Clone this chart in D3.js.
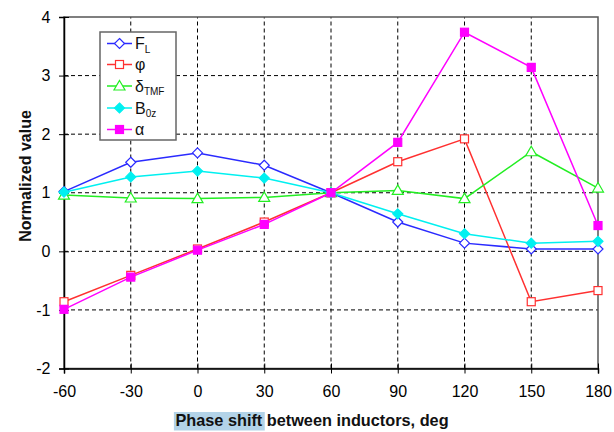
<!DOCTYPE html>
<html>
<head>
<meta charset="utf-8">
<script src="https://cdn.jsdelivr.net/npm/d3@7"></script>
<style>
  body { margin: 0; background: #fff; }
  svg { display: block; font-family: "Liberation Sans", Arial, sans-serif; }
</style>
</head>
<body>
<svg id="chart" width="614" height="432"></svg>
<script>
// Phase shift (deg) on the x axis
const phaseShift = [-60, -30, 0, 30, 60, 90, 120, 150, 180];

// Normalized values of each quantity
const forceL   = [1.02, 1.52, 1.68, 1.47, 1.00, 0.50, 0.14, 0.04, 0.04];
const phi      = [-0.86, -0.41, 0.04, 0.50, 1.00, 1.53, 1.92, -0.86, -0.67];
const deltaTMF = [0.96, 0.91, 0.90, 0.92, 1.00, 1.04, 0.90, 1.70, 1.08];
const b0z      = [1.01, 1.27, 1.37, 1.25, 1.00, 0.64, 0.30, 0.14, 0.17];
const alpha    = [-0.99, -0.44, 0.02, 0.46, 1.00, 1.86, 3.74, 3.14, 0.44];

const xTicks = [-60, -30, 0, 30, 60, 90, 120, 150, 180];
const yTicks = [-2, -1, 0, 1, 2, 3, 4];

const series = [
  { name: "F", sub: "L",   values: forceL,   color: "#2a2aff", marker: "diamond",  filled: false },
  { name: "φ", sub: "",    values: phi,      color: "#ff3030", marker: "square",   filled: false },
  { name: "δ", sub: "TMF", values: deltaTMF, color: "#22ee22", marker: "triangle", filled: false },
  { name: "B", sub: "0z",  values: b0z,      color: "#00f0f0", marker: "diamond",  filled: true },
  { name: "α", sub: "",    values: alpha,    color: "#ff00ff", marker: "square",   filled: true }
];

const svg = d3.select("#chart");
const margin = { left: 64, right: 16, top: 17, bottom: 64 };
const W = 614, H = 432;
const x = d3.scaleLinear().domain([-60, 180]).range([margin.left, W - margin.right]);
const y = d3.scaleLinear().domain([-2, 4]).range([H - margin.bottom + 0.5, margin.top]);

// Dashed grid
const grid = svg.append("g");
grid.selectAll(".gx").data(xTicks.slice(1, -1)).join("line")
  .attr("x1", d => x(d)).attr("x2", d => x(d))
  .attr("y1", y(-2)).attr("y2", y(4))
  .attr("stroke", "#000").attr("stroke-width", 1).attr("stroke-dasharray", "4,3");
grid.selectAll(".gy").data(yTicks.slice(1, -1)).join("line")
  .attr("y1", d => y(d)).attr("y2", d => y(d))
  .attr("x1", x(-60)).attr("x2", x(180))
  .attr("stroke", "#000").attr("stroke-width", 1).attr("stroke-dasharray", "4,3");

// Plot frame
svg.append("rect")
  .attr("x", x(-60)).attr("y", y(4))
  .attr("width", x(180) - x(-60)).attr("height", y(-2) - y(4))
  .attr("fill", "none").attr("stroke", "#555").attr("stroke-width", 1.5);

// Axes with ticks crossing the axis line
const yAxis = svg.append("g").attr("transform", `translate(${x(-60)},0)`)
  .call(d3.axisLeft(y).tickValues(yTicks).tickSize(5).tickPadding(8.5).tickFormat(d3.format("d")));
yAxis.selectAll(".tick line").attr("x2", -5).attr("x1", 5);
const xAxis = svg.append("g").attr("transform", `translate(0,${y(-2)})`)
  .call(d3.axisBottom(x).tickValues(xTicks).tickSize(5).tickPadding(12.5).tickFormat(d3.format("d")));
xAxis.selectAll(".tick line").attr("y1", -5).attr("y2", 5);
[xAxis, yAxis].forEach(a => {
  a.select(".domain").attr("stroke", "#000").attr("stroke-width", 1.5);
  a.selectAll(".tick line").attr("stroke", "#000");
  a.selectAll("text").attr("font-size", 16).attr("fill", "#000")
    .attr("font-family", "Liberation Sans, Arial, sans-serif")
    .text(d => String(d).replace("−", "-"));
});

// Axis titles; the words "Phase shift" sit on a light-blue highlight
const hl = svg.append("rect").attr("fill", "#b3d3e8");
const xTitle = svg.append("text").attr("x", 312).attr("y", 426).attr("text-anchor", "middle")
  .attr("font-size", 16.3).attr("font-weight", "bold").attr("fill", "#111")
  .text("Phase shift between inductors, deg");
{
  const node = xTitle.node();
  const x0 = node.getStartPositionOfChar(0).x;
  const w = node.getSubStringLength(0, 11);
  hl.attr("x", x0 - 1.5).attr("y", 412).attr("width", w + 4).attr("height", 18.5);
}
svg.append("text").attr("transform", "translate(31,176) rotate(-90)").attr("text-anchor", "middle")
  .attr("font-size", 16).attr("font-weight", "bold").attr("fill", "#111")
  .text("Normalized value");

// Marker shapes
function drawMarker(g, s, cx, cy) {
  const fill = s.filled ? s.color : "#fff";
  if (s.marker === "diamond") {
    g.append("path").attr("d", `M${cx},${cy - 5}L${cx + 5},${cy}L${cx},${cy + 5}L${cx - 5},${cy}Z`)
      .attr("fill", fill).attr("stroke", s.color).attr("stroke-width", 1.2);
  } else if (s.marker === "square") {
    g.append("rect").attr("x", cx - 4).attr("y", cy - 4).attr("width", 8).attr("height", 8)
      .attr("fill", fill).attr("stroke", s.color).attr("stroke-width", 1.2);
  } else {
    g.append("path").attr("d", `M${cx},${cy - 5.5}L${cx + 5.5},${cy + 4}L${cx - 5.5},${cy + 4}Z`)
      .attr("fill", fill).attr("stroke", s.color).attr("stroke-width", 1.2);
  }
}

const line = d3.line().x((d, i) => x(phaseShift[i])).y(d => y(d));
series.forEach(s => {
  const g = svg.append("g");
  g.append("path").attr("d", line(s.values)).attr("fill", "none")
    .attr("stroke", s.color).attr("stroke-width", 1.5);
  s.values.forEach((v, i) => drawMarker(g, s, x(phaseShift[i]), y(v)));
});

// Legend
const lg = svg.append("g");
lg.append("rect").attr("x", 100).attr("y", 32).attr("width", 76).attr("height", 108)
  .attr("fill", "#fff").attr("stroke", "#666").attr("stroke-width", 1.5);
const rowY = [43.5, 64.5, 86, 108, 129.5];
series.forEach((s, i) => {
  const ry = rowY[i];
  lg.append("line").attr("x1", 107).attr("x2", 132).attr("y1", ry).attr("y2", ry)
    .attr("stroke", s.color).attr("stroke-width", 1.5);
  drawMarker(lg, s, 119.5, ry);
  const t = lg.append("text").attr("x", 135).attr("y", ry + 5.5).attr("font-size", 16).attr("fill", "#111");
  t.append("tspan").text(s.name);
  if (s.sub) t.append("tspan").attr("font-size", 10).attr("dy", 3.5).text(s.sub);
});
</script>
</body>
</html>
